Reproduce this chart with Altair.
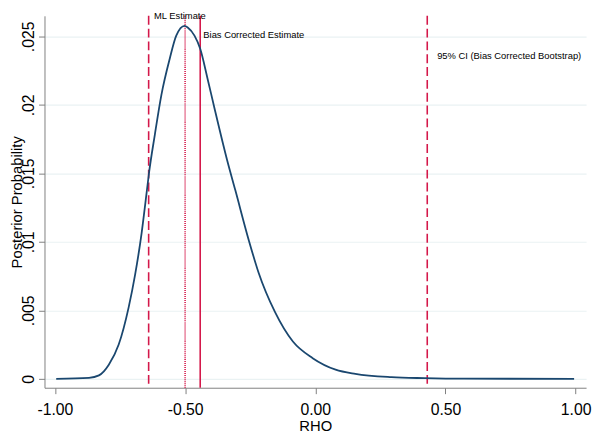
import altair as alt
import pandas as pd

# Posterior curve
rho = [-0.995, -0.869, -0.831, -0.812, -0.793, -0.755, -0.717, -0.692, -0.667, -0.648, -0.639,
       -0.616, -0.591, -0.559, -0.534, -0.502, -0.490, -0.464, -0.442, -0.414, -0.389,
       -0.338, -0.307, -0.256, -0.218, -0.155, -0.086, -0.010, 0.078, 0.154, 0.293,
       0.419, 0.571, 0.994]
posterior = [0.0, 0.00007, 0.00025, 0.00055, 0.00103, 0.0025, 0.0052, 0.0076, 0.01064, 0.01355, 0.01497,
             0.01785, 0.02073, 0.02337, 0.02505, 0.02577, 0.02565, 0.02505, 0.02409, 0.02193, 0.0199,
             0.01592, 0.01376, 0.01016, 0.00776, 0.00488, 0.00272, 0.00151, 0.00067, 0.00036, 0.00012,
             0.00005, 0.00001, 0.0]

# Reference lines
ci_bounds = [-0.64, 0.43]
ml_estimate = [-0.50]
bc_estimate = [-0.442]

# Annotations
note_text = ["ML Estimate", "Bias Corrected Estimate", "95% CI (Bias Corrected Bootstrap)"]
note_x = [-0.6195, -0.430, 0.468]
note_y = [0.02628, 0.02487, 0.02337]

# Axes
x_ticks = [-1.0, -0.5, 0.0, 0.5, 1.0]
x_tick_labels = ["-1.00", "-0.50", "0.00", "0.50", "1.00"]
y_ticks = [0.0, 0.005, 0.01, 0.015, 0.02, 0.025]
y_tick_labels = ["0", ".005", ".01", ".015", ".02", ".025"]

RED = "#d4184a"
NAVY = "#1a476f"
AXIS = "#7f7f7f"
FONT = "Liberation Sans"

curve = pd.DataFrame({"rho": rho, "posterior": posterior})
notes = pd.DataFrame({"rho": note_x, "posterior": note_y, "text": note_text})

x_label_expr = "[" + ",".join("'%s'" % s for s in x_tick_labels) + "][round((datum.value + 1) / 0.5)]"
y_label_expr = "[" + ",".join("'%s'" % s for s in y_tick_labels) + "][round(datum.value / 0.005)]"

x_scale = alt.Scale(domain=[-1.04, 1.04], nice=False, zero=False)
y_scale = alt.Scale(domain=[-0.00065, 0.0265], nice=False, zero=False)

x_axis = alt.Axis(values=x_ticks, labelExpr=x_label_expr, labelFontSize=16, labelFont=FONT,
                  labelColor="black", labelBaseline="alphabetic", labelPadding=21,
                  labelFlush=False, labelOverlap=False, tickSize=6, tickColor=AXIS,
                  domainColor=AXIS, grid=False, title="RHO", titleFont=FONT, titleFontSize=15,
                  titleFontWeight="normal", titleColor="black", titleBaseline="alphabetic",
                  titleY=43, titleX=274.5, titleAlign="center")
y_axis = alt.Axis(values=y_ticks, labelExpr=y_label_expr, labelFontSize=16, labelFont=FONT,
                  labelColor="black", labelAngle=270, labelAlign="center",
                  labelBaseline="alphabetic", labelPadding=5, labelFlush=False,
                  labelOverlap=False, tickSize=6, tickColor=AXIS, domainColor=AXIS,
                  grid=True, gridColor="#eaf2f3", gridWidth=1.2,
                  title="Posterior Probability", titleFont=FONT, titleFontSize=15,
                  titleFontWeight="normal", titleColor="black", titleAngle=270,
                  titleAlign="center", titleBaseline="alphabetic", titleX=-23, titleY=188.5)

line = alt.Chart(curve).mark_line(color=NAVY, strokeWidth=1.8, interpolate="monotone").encode(
    x=alt.X("rho:Q", scale=x_scale, axis=x_axis),
    y=alt.Y("posterior:Q", scale=y_scale, axis=y_axis),
)

ci_rules = alt.Chart(pd.DataFrame({"rho": ci_bounds})).mark_rule(
    color=RED, strokeWidth=1.6, strokeDash=[9, 4]).encode(x=alt.X("rho:Q", scale=x_scale))
ml_rule = alt.Chart(pd.DataFrame({"rho": ml_estimate})).mark_rule(
    color=RED, strokeWidth=1.6, strokeDash=[1, 1]).encode(x=alt.X("rho:Q", scale=x_scale))
bc_rule = alt.Chart(pd.DataFrame({"rho": bc_estimate})).mark_rule(
    color=RED, strokeWidth=1.6).encode(x=alt.X("rho:Q", scale=x_scale))

text = alt.Chart(notes).mark_text(align="left", baseline="alphabetic", fontSize=9.5,
                                  font=FONT, color="black").encode(
    x=alt.X("rho:Q", scale=x_scale),
    y=alt.Y("posterior:Q", scale=y_scale),
    text="text:N",
)

chart = alt.layer(ci_rules, ml_rule, bc_rule, line, text).properties(
    width=549, height=377, autosize="none",
    padding={"left": 37, "top": 5, "right": 6, "bottom": 46},
    background="white",
).configure_view(stroke=None)

chart.save("out.html", embed_options={"renderer": "svg", "actions": False})
